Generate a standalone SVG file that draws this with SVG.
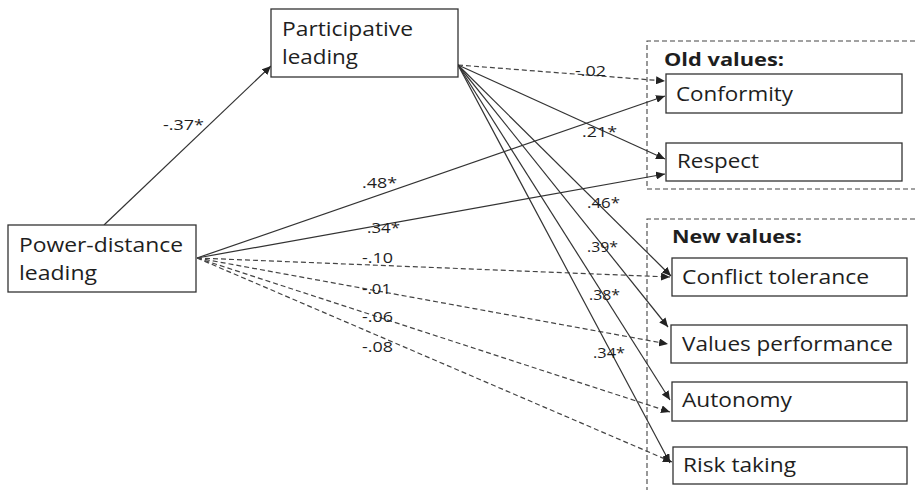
<svg xmlns="http://www.w3.org/2000/svg" width="915" height="490" viewBox="0 0 915 490">
<defs>
<marker id="ah" markerUnits="userSpaceOnUse" markerWidth="10" markerHeight="8" refX="9" refY="4" orient="auto">
<path d="M0,0 L9,4 L0,8 Z" fill="#222"/>
</marker>
<style>
.box{fill:#fff;stroke:#333;stroke-width:1.3}
.grp{fill:none;stroke:#444;stroke-width:1.1;stroke-dasharray:5,3}
.t{font-family:"Open Sans","Liberation Sans",sans-serif;font-size:19.5px;fill:#1e1e1e}
.h{font-family:"Open Sans","Liberation Sans",sans-serif;font-size:18px;font-weight:bold;fill:#1e1e1e}
.l{font-family:"Open Sans","Liberation Sans",sans-serif;font-size:15px;fill:#1e1e1e}
.s{fill:none;stroke:#333;stroke-width:1.2;marker-end:url(#ah)}
.d{fill:none;stroke:#444;stroke-width:1.2;stroke-dasharray:5,3;marker-end:url(#ah)}
</style>
</defs>
<rect width="915" height="490" fill="#fff"/>
<g id="group-old">
<path class="grp" d="M915,41 H647 V189 H915"/>
<text class="h" x="664" y="66" textLength="120" lengthAdjust="spacingAndGlyphs">Old values:</text>
</g>
<g id="group-new">
<path class="grp" d="M915,219 H647 V490"/>
<text class="h" x="672" y="243" textLength="130" lengthAdjust="spacingAndGlyphs">New values:</text>
</g>
<g id="connectors">
<line class="s" x1="104" y1="225" x2="271" y2="66"/>
<line class="s" x1="197" y1="258" x2="665" y2="96"/>
<line class="s" x1="197" y1="258" x2="665" y2="174"/>
<line class="d" x1="197" y1="258" x2="670" y2="277"/>
<line class="d" x1="197" y1="258" x2="668" y2="344"/>
<line class="d" x1="197" y1="258" x2="670" y2="412"/>
<line class="d" x1="197" y1="258" x2="672" y2="462"/>
<line class="d" x1="458" y1="65" x2="665" y2="81"/>
<line class="s" x1="458" y1="65" x2="665" y2="159"/>
<line class="s" x1="458" y1="65" x2="671" y2="276"/>
<line class="s" x1="458" y1="65" x2="668" y2="327"/>
<line class="s" x1="458" y1="65" x2="670" y2="400"/>
<line class="s" x1="458" y1="65" x2="670" y2="463"/>
<text class="l" x="163" y="130" textLength="41" lengthAdjust="spacingAndGlyphs">-.37*</text>
<text class="l" x="362" y="188" textLength="35" lengthAdjust="spacingAndGlyphs">.48*</text>
<text class="l" x="367" y="233" textLength="33" lengthAdjust="spacingAndGlyphs">.34*</text>
<text class="l" x="362" y="263" textLength="31" lengthAdjust="spacingAndGlyphs">-.10</text>
<text class="l" x="362" y="294" textLength="29" lengthAdjust="spacingAndGlyphs">-.01</text>
<text class="l" x="362" y="322" textLength="31" lengthAdjust="spacingAndGlyphs">-.06</text>
<text class="l" x="362" y="352" textLength="31" lengthAdjust="spacingAndGlyphs">-.08</text>
<text class="l" x="575" y="76" textLength="31" lengthAdjust="spacingAndGlyphs">-.02</text>
<text class="l" x="582" y="137" textLength="35" lengthAdjust="spacingAndGlyphs">.21*</text>
<text class="l" x="587" y="208" textLength="33" lengthAdjust="spacingAndGlyphs">.46*</text>
<text class="l" x="587" y="252" textLength="31" lengthAdjust="spacingAndGlyphs">.39*</text>
<text class="l" x="589" y="300" textLength="31" lengthAdjust="spacingAndGlyphs">.38*</text>
<text class="l" x="593" y="358" textLength="32" lengthAdjust="spacingAndGlyphs">.34*</text>
</g>
<g id="participative">
<rect class="box" x="271" y="9" width="187" height="68"/>
<text class="t" x="282" y="36" textLength="131" lengthAdjust="spacingAndGlyphs">Participative</text>
<text class="t" x="282" y="64" textLength="76" lengthAdjust="spacingAndGlyphs">leading</text>
</g>
<g id="powerdistance">
<rect class="box" x="8" y="225" width="188" height="67"/>
<text class="t" x="19" y="252" textLength="164" lengthAdjust="spacingAndGlyphs">Power-distance</text>
<text class="t" x="19" y="280" textLength="78" lengthAdjust="spacingAndGlyphs">leading</text>
</g>
<g id="conformity">
<rect class="box" x="666" y="74" width="236" height="39"/>
<text class="t" x="676" y="101" textLength="117" lengthAdjust="spacingAndGlyphs">Conformity</text>
</g>
<g id="respect">
<rect class="box" x="666" y="143" width="236" height="38"/>
<text class="t" x="677" y="168" textLength="82" lengthAdjust="spacingAndGlyphs">Respect</text>
</g>
<g id="conflict">
<rect class="box" x="672" y="258" width="235" height="38"/>
<text class="t" x="682" y="284" textLength="187" lengthAdjust="spacingAndGlyphs">Conflict tolerance</text>
</g>
<g id="performance">
<rect class="box" x="671" y="325" width="236" height="38"/>
<text class="t" x="682" y="351" textLength="211" lengthAdjust="spacingAndGlyphs">Values performance</text>
</g>
<g id="autonomy">
<rect class="box" x="672" y="382" width="235" height="39"/>
<text class="t" x="682" y="407" textLength="110" lengthAdjust="spacingAndGlyphs">Autonomy</text>
</g>
<g id="risk">
<rect class="box" x="673" y="447" width="234" height="37"/>
<text class="t" x="683" y="472" textLength="113" lengthAdjust="spacingAndGlyphs">Risk taking</text>
</g>
</svg>
